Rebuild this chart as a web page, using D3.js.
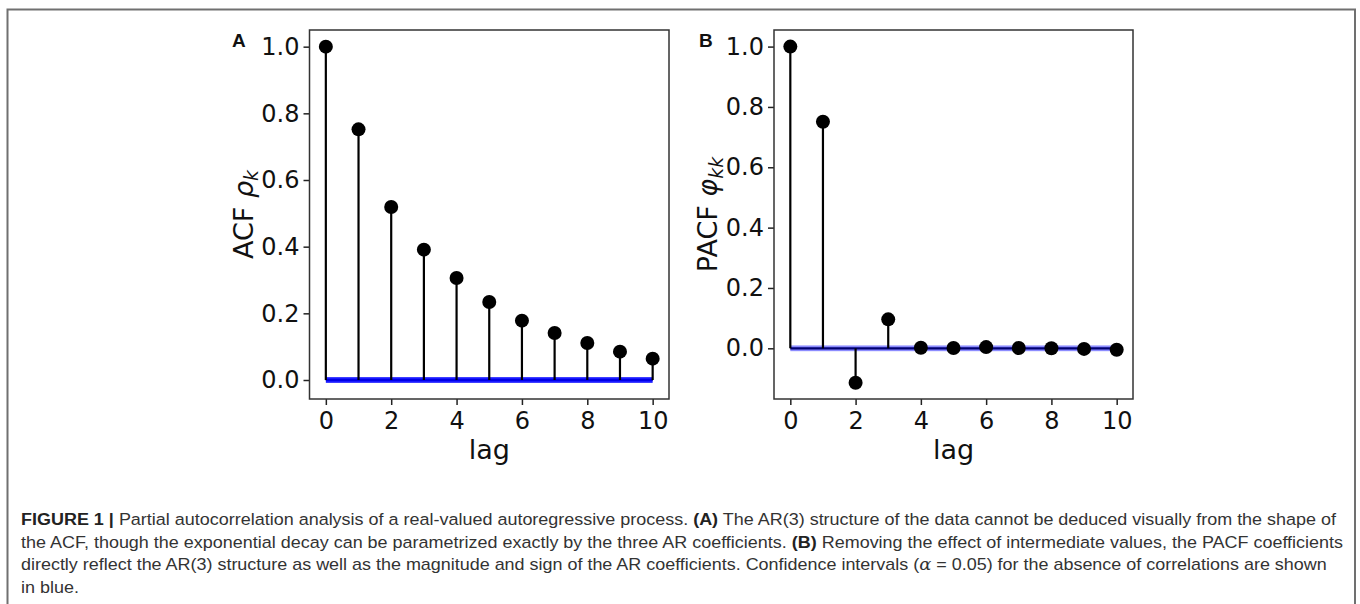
<!DOCTYPE html>
<html>
<head>
<meta charset="utf-8">
<script src="https://cdn.jsdelivr.net/npm/d3@7"></script>
<style>
  html, body { margin: 0; padding: 0; background: #fff; }
  svg { display: block; }
  .caption text { white-space: pre; }
</style>
</head>
<body>
<svg id="fig" width="1360" height="604"></svg>
<script>
// ---- data ----
const lags = [0, 1, 2, 3, 4, 5, 6, 7, 8, 9, 10];
const acfValues = [1.0, 0.752, 0.519, 0.391, 0.306, 0.234, 0.178, 0.141, 0.111, 0.085, 0.064];
const pacfValues = [1.0, 0.751, -0.114, 0.096, 0.002, 0.001, 0.004, 0.001, 0.0, -0.002, -0.005];
const acfConf = 0.0085;
const pacfConf = 0.0095;
const xTickValues = [0, 2, 4, 6, 8, 10];
const yTickValues = [0.0, 0.2, 0.4, 0.6, 0.8, 1.0];

const captionLines = [
  [["b", "FIGURE 1 |"], ["", " Partial autocorrelation analysis of a real-valued autoregressive process. "], ["b", "(A)"], ["", " The AR(3) structure of the data cannot be deduced visually from the shape of"]],
  [["", "the ACF, though the exponential decay can be parametrized exactly by the three AR coefficients. "], ["b", "(B)"], ["", " Removing the effect of intermediate values, the PACF coefficients"]],
  [["", "directly reflect the AR(3) structure as well as the magnitude and sign of the AR coefficients. Confidence intervals ("], ["i", "α"], ["", " = 0.05) for the absence of correlations are shown"]],
  [["", "in blue."]],
];

const svg = d3.select("#fig");

// outer frame
svg.append("path")
  .attr("d", "M7.5,604 V9.5 H1355 V604")
  .attr("fill", "none")
  .attr("stroke", "#707070")
  .attr("stroke-width", 2);

function drawPanel(opts) {
  const { left, right, top, bottom, values, conf, yDomain, bandOpacity } = opts;

  const x = d3.scaleLinear().domain([-0.5, 10.5]).range([left, right]);
  const y = d3.scaleLinear().domain(yDomain).range([bottom, top]);

  const g = svg.append("g");

  // confidence band + baseline
  g.append("line")
    .attr("x1", x(0))
    .attr("x2", x(10))
    .attr("y1", y(0))
    .attr("y2", y(0))
    .attr("stroke", "#000")
    .attr("stroke-width", 2.2);

  g.append("rect")
    .attr("x", x(0))
    .attr("width", x(10) - x(0))
    .attr("y", y(conf))
    .attr("height", y(-conf) - y(conf))
    .attr("fill", "#0000ff")
    .attr("fill-opacity", bandOpacity);

  // stems
  g.selectAll(".stem")
    .data(lags)
    .join("line")
    .attr("class", "stem")
    .attr("x1", (d) => x(d))
    .attr("x2", (d) => x(d))
    .attr("y1", y(0))
    .attr("y2", (d, i) => y(values[i]))
    .attr("stroke", "#000")
    .attr("stroke-width", 2.2);

  g.selectAll(".dot")
    .data(lags)
    .join("circle")
    .attr("class", "dot")
    .attr("cx", (d) => x(d))
    .attr("cy", (d, i) => y(values[i]))
    .attr("r", 7)
    .attr("fill", "#000");

  // axes
  g.append("g")
    .attr("transform", `translate(0,${bottom})`)
    .call(d3.axisBottom(x).tickValues(xTickValues).tickFormat(d3.format("d")).tickSize(6).tickPadding(7))
    .call((a) => a.select(".domain").remove())
    .call((a) => a.selectAll("line").attr("stroke", "#222").attr("stroke-width", 1.5))
    .call((a) => a.selectAll("text").attr("fill", "#111").style("font-family", "DejaVu Sans").style("font-size", "24px"));

  g.append("g")
    .attr("transform", `translate(${left},0)`)
    .call(d3.axisLeft(y).tickValues(yTickValues).tickFormat(d3.format(".1f")).tickSize(6).tickPadding(4))
    .call((a) => a.select(".domain").remove())
    .call((a) => a.selectAll("line").attr("stroke", "#222").attr("stroke-width", 1.5))
    .call((a) => a.selectAll("text").attr("fill", "#111").style("font-family", "DejaVu Sans").style("font-size", "24px"));

  g.append("rect")
    .attr("x", left)
    .attr("y", top)
    .attr("width", right - left)
    .attr("height", bottom - top)
    .attr("fill", "none")
    .attr("stroke", "#333")
    .attr("stroke-width", 1.5);

  // x label
  g.append("text")
    .attr("x", (left + right) / 2)
    .attr("y", 459)
    .attr("text-anchor", "middle")
    .style("font-family", "DejaVu Sans")
    .style("font-size", "27px")
    .attr("fill", "#111")
    .text("lag");

  // y label
  const yl = g.append("text")
    .attr("transform", `translate(${left - 57},${(top + bottom) / 2}) rotate(-90)`)
    .attr("text-anchor", "middle")
    .style("font-family", "DejaVu Sans")
    .style("font-size", "27px")
    .attr("fill", "#111");
  yl.append("tspan").text(opts.yLabel + " ");
  yl.append("tspan").style("font-style", "italic").text(opts.symbol);
  yl.append("tspan").style("font-style", "italic").style("font-size", "19px").attr("dy", "0.3em").text(opts.sub);

  // panel letter
  svg.append("text")
    .attr("x", opts.letterX)
    .attr("y", 47)
    .style("font-family", "Liberation Sans, Arial, sans-serif")
    .style("font-weight", "bold")
    .style("font-size", "19px")
    .attr("fill", "#111")
    .text(opts.letter);
}

drawPanel({
  left: 309.5, right: 669, top: 30, bottom: 399,
  values: acfValues, conf: acfConf, yDomain: [-0.057, 1.05], bandOpacity: 0.9,
  yLabel: "ACF", symbol: "ρ", sub: "k", letter: "A", letterX: 232,
});

drawPanel({
  left: 774, right: 1133, top: 30, bottom: 399,
  values: pacfValues, conf: pacfConf, yDomain: [-0.168, 1.055], bandOpacity: 0.45,
  yLabel: "PACF", symbol: "φ", sub: "kk", letter: "B", letterX: 699,
});

// ---- caption ----
const captionG = svg.append("g").attr("class", "caption");
const captionX = 21;
const captionBase = [525, 547.7, 570.4, 593];
const captionEnds = [1337, 1344, 1328];
const scales = [];

captionLines.forEach((parts, li) => {
  const lg = captionG.append("g");
  const t = lg.append("text")
    .attr("x", 0)
    .attr("y", 0)
    .style("font-family", "Liberation Sans, Arial, sans-serif")
    .style("font-size", "17px")
    .attr("fill", "#333");
  parts.forEach(([kind, str]) => {
    const ts = t.append("tspan").text(str);
    if (kind === "b") ts.style("font-weight", "bold").attr("fill", "#222");
    if (kind === "i") ts.style("font-style", "italic").style("font-family", "DejaVu Serif");
  });
  const w = t.node().getComputedTextLength();
  let sx;
  if (li < captionEnds.length) {
    sx = (captionEnds[li] - captionX) / w;
    scales.push(sx);
  } else {
    sx = d3.mean(scales);
  }
  lg.attr("transform", `translate(${captionX},${captionBase[li]}) scale(${sx},1)`);
});
</script>
</body>
</html>
